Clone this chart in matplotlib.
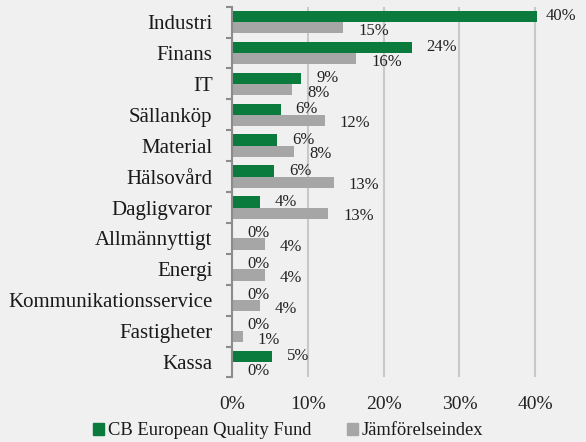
import matplotlib
matplotlib.use("Agg")
import matplotlib.pyplot as plt
import numpy as np
from matplotlib.ticker import FuncFormatter, FixedLocator
from matplotlib.patches import Patch

categories = ["Industri", "Finans", "IT", "Sällanköp", "Material", "Hälsovård",
              "Dagligvaror", "Allmännyttigt", "Energi", "Kommunikationsservice",
              "Fastigheter", "Kassa"]
fund = [40.3, 23.7, 9.1, 6.4, 5.9, 5.6, 3.7, 0.0, 0.0, 0.0, 0.0, 5.3]
index = [14.7, 16.4, 7.9, 12.2, 8.2, 13.4, 12.7, 4.3, 4.3, 3.7, 1.4, 0.0]
series_names = ["CB European Quality Fund", "Jämförelseindex"]
xticks = [0, 10, 20, 30, 40]

GREEN = "#0A7A3D"
GRAY = "#A6A6A6"
BG = "#F0F0F0"
FONT = "Liberation Serif"

plt.rcParams["font.family"] = [FONT, "DejaVu Serif"]

fig = plt.figure(figsize=(5.86, 4.42), dpi=100, facecolor=BG)
ax = fig.add_axes([0.396, 0.146, 0.582, 0.839], facecolor=BG)

y = np.arange(len(categories))
h = 0.365
ax.barh(y - h / 2, fund, height=h, color=GREEN, zorder=3)
ax.barh(y + h / 2, index, height=h, color=GRAY, zorder=3)

for yi, v in zip(y, fund):
    ax.annotate(f"{v:.0f}%", xy=(v, yi - h / 2), xytext=(15 if v < 40 else 8, 0),
                textcoords="offset pixels", ha="left", va="center",
                fontsize=12, color="#222222", zorder=4)
for yi, v in zip(y, index):
    ax.annotate(f"{v:.0f}%", xy=(v, yi + h / 2), xytext=(15, -3),
                textcoords="offset pixels", ha="left", va="center",
                fontsize=12, color="#222222", zorder=4)

ax.set_xlim(0, 45)
ax.set_ylim(len(categories) - 0.5, -0.5)
ax.xaxis.set_major_locator(FixedLocator(xticks))
ax.xaxis.set_major_formatter(FuncFormatter(lambda v, p: f"{v:.0f}%"))
ax.tick_params(axis="x", length=0, pad=13, labelsize=14, labelcolor="#222222")
ax.grid(axis="x", color="#C8C8C8", linewidth=1.5, zorder=0)

ax.set_yticks(y)
ax.set_yticklabels(categories)
ax.tick_params(axis="y", which="major", length=0, pad=14, labelsize=15, labelcolor="#1a1a1a")
ax.set_yticks(np.arange(len(categories) + 1) - 0.5, minor=True)
ax.tick_params(axis="y", which="minor", length=4, width=1.5, color="#8C8C8C")

for s in ["top", "right", "bottom"]:
    ax.spines[s].set_visible(False)
ax.spines["left"].set_color("#8C8C8C")
ax.spines["left"].set_linewidth(1.5)
ax.spines["left"].set_zorder(5)

handles = [Patch(color=GREEN, label=series_names[0]), Patch(color=GRAY, label=series_names[1])]
fig.legend(handles=handles, loc="center", bbox_to_anchor=(0.492, 0.025), ncol=2,
           frameon=False, fontsize=13.3, handlelength=0.6, handleheight=0.6,
           handletextpad=0.22, columnspacing=1.9, labelcolor="#1a1a1a")

fig.savefig("out.png", dpi=100, facecolor=BG)
